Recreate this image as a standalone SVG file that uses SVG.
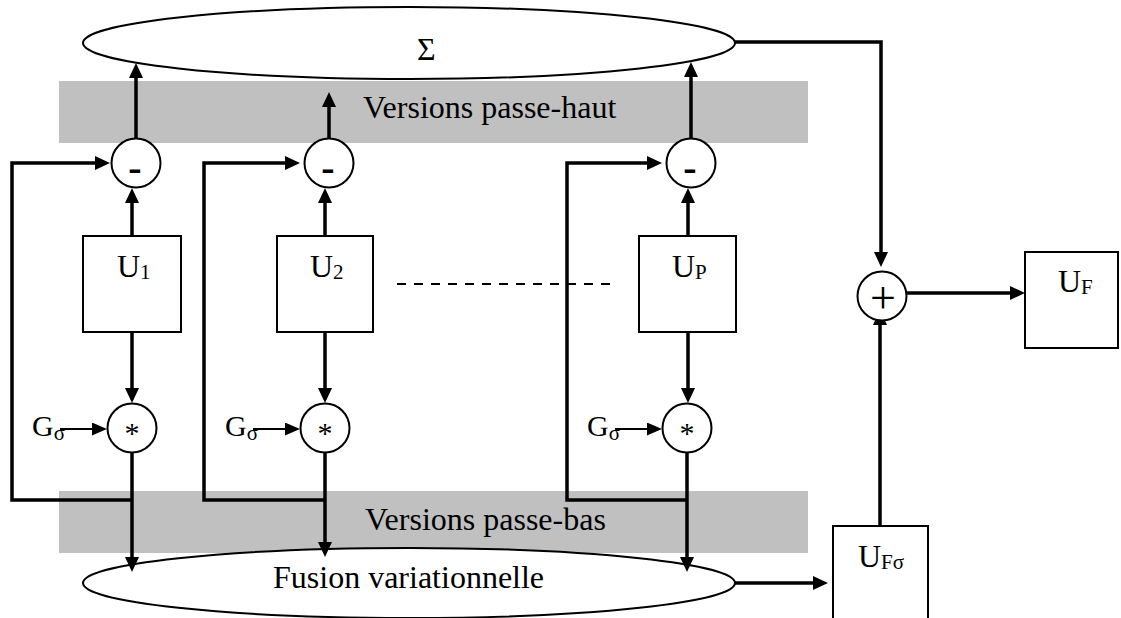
<svg xmlns="http://www.w3.org/2000/svg" width="1121" height="618" viewBox="0 0 1121 618">
  <defs>
    <style>
      .band { fill: #c0c0c0; stroke: none; }
      .ell { fill: #ffffff; stroke: #000; stroke-width: 2; }
      .box { fill: #ffffff; stroke: #000; stroke-width: 2; }
      .op { fill: #ffffff; stroke: #000; stroke-width: 2; }
      .wire { fill: none; stroke: #000; stroke-width: 3.5; stroke-linejoin: miter; }
      .thin { fill: none; stroke: #000; stroke-width: 2; }
      .dash { fill: none; stroke: #000; stroke-width: 2.2; stroke-dasharray: 9 8; }
      .lbl { font-family: "Liberation Serif", "Times New Roman", serif; font-size: 32px; fill: #000; }
      .sub { font-size: 21px; }
      .sym { font-family: "Liberation Serif", "Times New Roman", serif; fill: #000; text-anchor: middle; }
      .minus { font-size: 40px; font-weight: bold; }
    </style>
    <marker id="ah" markerUnits="userSpaceOnUse" viewBox="0 0 15 14" refX="11" refY="7" markerWidth="15" markerHeight="14" orient="auto">
      <path d="M0,0 L15,7 L0,14 z" fill="#000"/>
    </marker>
    <marker id="ahs" markerUnits="userSpaceOnUse" viewBox="0 0 15 13" refX="12" refY="6.5" markerWidth="15" markerHeight="13" orient="auto">
      <path d="M0,0 L15,6.5 L0,13 z" fill="#000"/>
    </marker>
  </defs>

  <rect width="1121" height="618" fill="#ffffff"/>

  <!-- shaded bands -->
  <g id="band-high">
    <rect class="band" x="59" y="81" width="749" height="62"/>
    <text class="lbl" x="363" y="118">Versions passe-haut</text>
  </g>
  <g id="band-low">
    <rect class="band" x="59" y="491" width="749" height="62"/>
    <text class="lbl" x="365" y="530">Versions passe-bas</text>
  </g>

  <!-- summation and fusion stages -->
  <g id="sigma">
    <ellipse class="ell" cx="409" cy="43" rx="326" ry="36"/>
    <text class="lbl" x="417" y="60">Σ</text>
  </g>
  <g id="fusion">
    <ellipse class="ell" cx="409" cy="583" rx="326" ry="35"/>
    <text class="lbl" x="273" y="588">Fusion variationnelle</text>
  </g>

  <!-- connectors -->
  <g id="connectors">
    <!-- column 1 -->
    <path class="wire" d="M136,138 V67" marker-end="url(#ah)"/>
    <path class="wire" d="M132,236 V192" marker-end="url(#ah)"/>
    <path class="wire" d="M132,332 V399" marker-end="url(#ah)"/>
    <path class="wire" d="M132,452 V568" marker-end="url(#ah)"/>
    <path class="wire" d="M132,500 H12 V163 H106" marker-end="url(#ah)"/>
    <path class="thin" d="M60,429 H104" marker-end="url(#ahs)"/>
    <!-- column 2 -->
    <path class="wire" d="M329,138 V96" marker-end="url(#ah)"/>
    <path class="wire" d="M325,236 V192" marker-end="url(#ah)"/>
    <path class="wire" d="M325,332 V399" marker-end="url(#ah)"/>
    <path class="wire" d="M325,452 V553" marker-end="url(#ah)"/>
    <path class="wire" d="M325,500 H204 V163 H296" marker-end="url(#ah)"/>
    <path class="thin" d="M253,429 H297" marker-end="url(#ahs)"/>
    <!-- column P -->
    <path class="wire" d="M691,138 V66" marker-end="url(#ah)"/>
    <path class="wire" d="M688,236 V192" marker-end="url(#ah)"/>
    <path class="wire" d="M688,332 V399" marker-end="url(#ah)"/>
    <path class="wire" d="M687,452 V568" marker-end="url(#ah)"/>
    <path class="wire" d="M687,500 H567 V163 H658" marker-end="url(#ah)"/>
    <path class="thin" d="M615,429 H659" marker-end="url(#ahs)"/>
    <!-- intermediate columns -->
    <path class="dash" d="M397,284 H614"/>
    <!-- output path -->
    <path class="wire" d="M735,42 H881 V263" marker-end="url(#ah)"/>
    <path class="wire" d="M880,526 V314" marker-end="url(#ah)"/>
    <path class="wire" d="M907,293 H1021" marker-end="url(#ah)"/>
    <path class="wire" d="M735,583 H824" marker-end="url(#ah)"/>
  </g>

  <!-- column 1 -->
  <g id="diff-1">
    <circle class="op" cx="136" cy="163" r="24.5"/>
    <text class="sym minus" x="135" y="181">-</text>
  </g>
  <g id="U1">
    <rect class="box" x="83" y="236" width="98" height="96"/>
    <text class="lbl" x="117" y="277">U<tspan class="sub" dy="2">1</tspan></text>
  </g>
  <g id="conv-1">
    <circle class="op" cx="132" cy="428" r="24.5"/>
    <text class="sym" x="132" y="443" font-size="30">*</text>
  </g>
  <g id="G-1">
    <text class="lbl" x="32" y="436" style="font-size:30px">G<tspan class="sub" dy="4">σ</tspan></text>
  </g>

  <!-- column 2 -->
  <g id="diff-2">
    <circle class="op" cx="329" cy="163" r="24.5"/>
    <text class="sym minus" x="328" y="181">-</text>
  </g>
  <g id="U2">
    <rect class="box" x="277" y="236" width="96" height="96"/>
    <text class="lbl" x="310" y="277">U<tspan class="sub" dy="2">2</tspan></text>
  </g>
  <g id="conv-2">
    <circle class="op" cx="325" cy="428" r="24.5"/>
    <text class="sym" x="325" y="443" font-size="30">*</text>
  </g>
  <g id="G-2">
    <text class="lbl" x="225" y="436" style="font-size:30px">G<tspan class="sub" dy="4">σ</tspan></text>
  </g>

  <!-- column P -->
  <g id="diff-P">
    <circle class="op" cx="691" cy="163" r="24.5"/>
    <text class="sym minus" x="690" y="181">-</text>
  </g>
  <g id="UP">
    <rect class="box" x="639" y="236" width="97" height="96"/>
    <text class="lbl" x="672" y="277">U<tspan class="sub" dy="2">P</tspan></text>
  </g>
  <g id="conv-P">
    <circle class="op" cx="687" cy="428" r="24.5"/>
    <text class="sym" x="687" y="443" font-size="30">*</text>
  </g>
  <g id="G-P">
    <text class="lbl" x="587" y="436" style="font-size:30px">G<tspan class="sub" dy="4">σ</tspan></text>
  </g>

  <!-- output -->
  <g id="add">
    <circle class="op" cx="882" cy="296" r="24.5"/>
    <text class="sym" x="883" y="313" font-size="46">+</text>
  </g>
  <g id="UF">
    <rect class="box" x="1025" y="252" width="93" height="96"/>
    <text class="lbl" x="1058" y="292">U<tspan class="sub" dy="2">F</tspan></text>
  </g>
  <g id="UFsigma">
    <rect class="box" x="833" y="526" width="95" height="100"/>
    <text class="lbl" x="858" y="567">U<tspan class="sub" dy="2">Fσ</tspan></text>
  </g>
</svg>
